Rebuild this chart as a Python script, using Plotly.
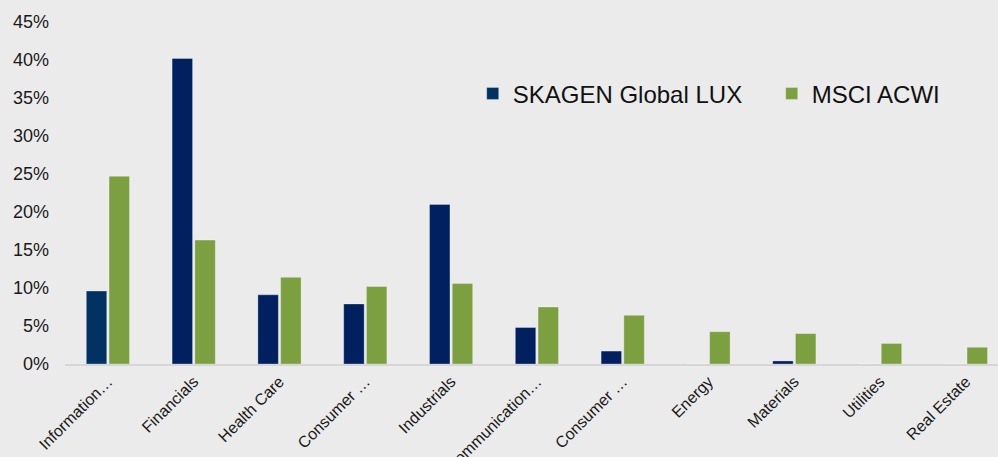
import plotly.graph_objects as go

categories = ["Information…", "Financials", "Health Care", "Consumer …", "Industrials",
              "Communication…", "Consumer …", "Energy", "Materials", "Utilities", "Real Estate"]
# unique x keys so the two "Consumer …" categories stay separate
cat_keys = [f"c{i}" for i in range(len(categories))]

skagen = [9.6, 40.2, 9.1, 7.9, 21.0, 4.8, 1.7, 0.0, 0.4, 0.0, 0.0]
msci = [24.7, 16.3, 11.4, 10.2, 10.6, 7.5, 6.4, 4.25, 4.0, 2.7, 2.2]

y_ticks = [0, 5, 10, 15, 20, 25, 30, 35, 40, 45]
y_tick_labels = [f"{v}%" for v in y_ticks]

navy = "#002060"
navy_first = "#003262"
green = "#7c9f40"
bg = "#ebebeb"
font = "Liberation Sans, Arial, sans-serif"

fig = go.Figure()
fig.add_trace(go.Bar(
    x=cat_keys, y=skagen, name="SKAGEN Global LUX",
    marker=dict(color=[navy_first] + [navy] * (len(skagen) - 1),
                line=dict(color="rgba(255,255,255,0.3)", width=1)),
))
fig.add_trace(go.Bar(
    x=cat_keys, y=msci, name="MSCI ACWI",
    marker=dict(color=green, line=dict(color="rgba(255,255,255,0.3)", width=1)),
))

fig.update_layout(
    width=998, height=457,
    paper_bgcolor=bg, plot_bgcolor=bg,
    margin=dict(l=65, r=0, t=22, b=93, autoexpand=False),
    barmode="group", bargap=0.47, bargroupgap=0.1,
    font=dict(family=font, size=17, color="#1a1a1a"),
    showlegend=True,
    legend=dict(
        orientation="h", x=0.437, y=0.79, xanchor="left", yanchor="middle",
        xref="paper", yref="paper",
        font=dict(size=24, color="#111111"),
        bgcolor="rgba(0,0,0,0)", entrywidth=254, entrywidthmode="pixels",
        itemclick=False, itemdoubleclick=False,
    ),
    xaxis=dict(
        tickmode="array", tickvals=cat_keys, ticktext=categories,
        tickangle=-45, range=[-0.5, 10.374], automargin=False,
        showline=True, linecolor="#d6d6d6", linewidth=2,
        ticks="", showgrid=False, zeroline=False,
        tickfont=dict(size=16),
    ),
    yaxis=dict(
        range=[0, 45], tickmode="array", tickvals=y_ticks, ticktext=y_tick_labels,
        showgrid=False, zeroline=False, showline=False, ticks="", automargin=False,
        ticklabelstandoff=15, tickfont=dict(size=18),
    ),
)

fig.write_html("out.html", config={"displayModeBar": False},
               post_script="document.body.style.margin='0';")
